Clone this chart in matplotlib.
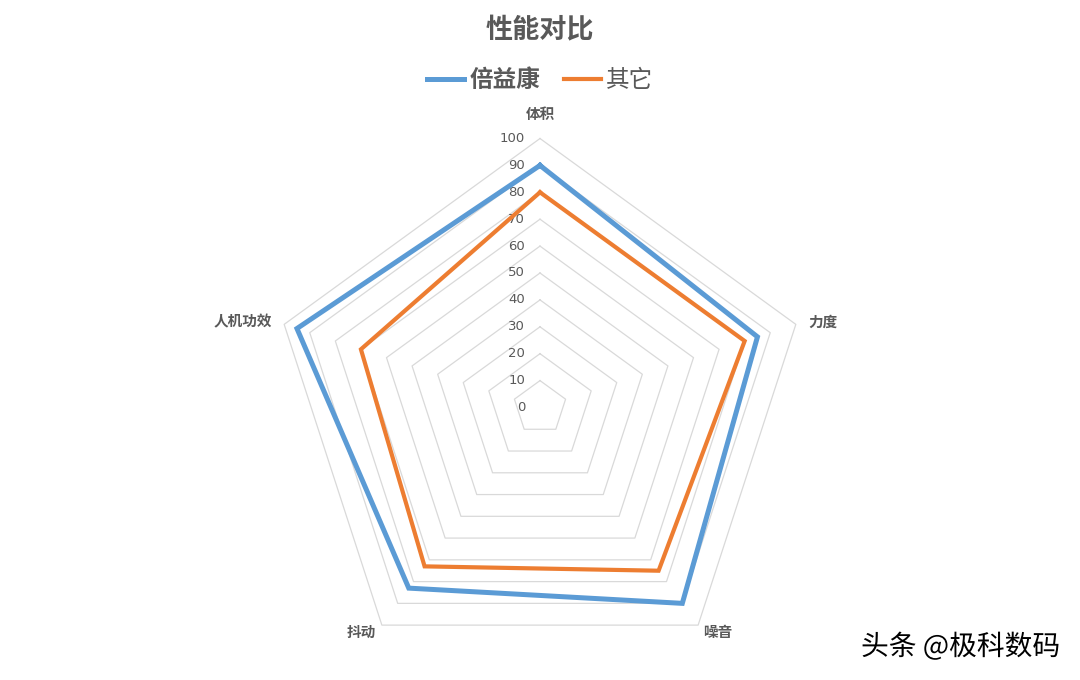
import numpy as np
import matplotlib
matplotlib.use("Agg")
import matplotlib.pyplot as plt
import matplotlib.patheffects as pe
from matplotlib.lines import Line2D

plt.rcParams['font.family'] = ['Noto Sans CJK SC', 'DejaVu Sans']

# data
categories = ['体积', '力度', '噪音', '抖动', '人机功效']
beiyikang = [90, 85, 90, 83, 95]
others = [80, 80, 75, 73, 70]
series_names = ['倍益康', '其它']
grid_levels = list(range(0, 101, 10))

blue = '#5B9BD5'
orange = '#ED7D31'
grey_txt = '#595959'
grid_col = '#D9D9D9'

n = len(categories)
angles = np.deg2rad(90 - 360 / n * np.arange(n))


def to_xy(vals):
    vals = np.asarray(vals, dtype=float)
    x = vals * np.cos(angles)
    y = vals * np.sin(angles)
    return np.append(x, x[0]), np.append(y, y[0])


W, H = 1080, 680
fig = plt.figure(figsize=(W / 100, H / 100), dpi=100)
ax = fig.add_axes([0, 0, 1, 1])
scale = 2.69  # px per unit
cx, cy = 540, 272.5  # center px from left/bottom
ax.set_xlim(-cx / scale, (W - cx) / scale)
ax.set_ylim(-cy / scale, (H - cy) / scale)
ax.axis('off')

# pentagon grid
for lv in grid_levels[1:]:
    gx, gy = to_xy([lv] * n)
    ax.plot(gx, gy, color=grid_col, lw=0.9, zorder=1)

# value labels
for lv in grid_levels:
    ax.text(-5.5, lv, str(lv), ha='right', va='center', fontsize=9.5,
            color=grey_txt, family=['DejaVu Sans'])

# series
bx, by = to_xy(beiyikang)
ox, oy = to_xy(others)
ax.plot(bx, by, color=blue, lw=3.6, zorder=3, solid_joinstyle='miter')
ax.plot(ox, oy, color=orange, lw=3.0, zorder=3, solid_joinstyle='miter')

# category labels
offsets = [(0, 16, 'center', 'bottom'), (12, 3, 'left', 'center'),
           (5, -7, 'left', 'center'), (-6, -7, 'right', 'center'),
           (-12, 3, 'right', 'center')]
for i, cat in enumerate(categories):
    dx, dy, ha, va = offsets[i]
    ax.annotate(cat, (100 * np.cos(angles[i]), 100 * np.sin(angles[i])),
                xytext=(dx, dy), textcoords='offset pixels', ha=ha, va=va,
                fontsize=10.5, fontweight='bold', color=grey_txt)

fig.text(0.5, 1 - 30 / H, '性能对比', ha='center', va='center', fontsize=19.5,
         fontweight='bold', color=grey_txt)

handles = [Line2D([], [], color=blue, lw=3.6), Line2D([], [], color=orange, lw=3.0)]
leg = fig.legend(handles, series_names, loc='center', bbox_to_anchor=(0.5, 1 - 80 / H),
                 ncol=2, frameon=False, fontsize=17, handlelength=1.6,
                 handletextpad=0.2, columnspacing=1.0)
for t in leg.get_texts():
    t.set_color(grey_txt)
leg.get_texts()[0].set_fontweight('bold')

fig.text(1 - 20 / W, 1 - 647 / H, '头条 @极科数码', ha='right', va='center',
         fontsize=20, color='black',
         path_effects=[pe.withStroke(linewidth=2, foreground='white')])

fig.savefig('out.png', dpi=100)
